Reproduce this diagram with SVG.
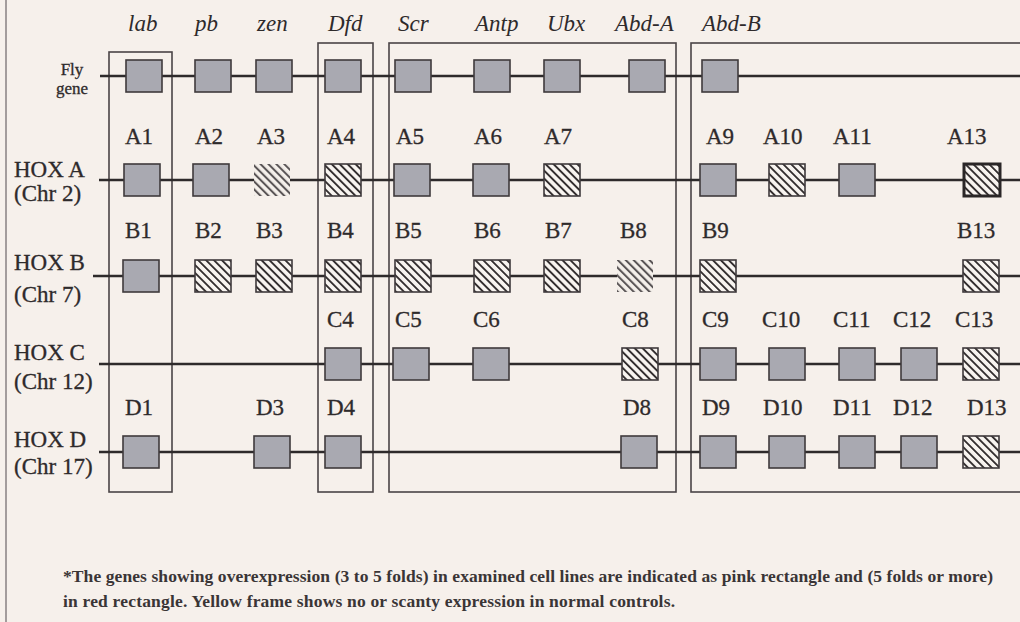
<svg xmlns="http://www.w3.org/2000/svg" width="1020" height="622" viewBox="0 0 1020 622">
<defs>
<pattern id="hatch" patternUnits="userSpaceOnUse" width="5.6" height="5.6" patternTransform="rotate(-45)">
<rect width="5.6" height="5.6" fill="#f8f4f0"/>
<rect x="0" y="0" width="1.9" height="5.6" fill="#332e2f"/>
</pattern>
<pattern id="hatchl" patternUnits="userSpaceOnUse" width="5.6" height="5.6" patternTransform="rotate(-45)">
<rect width="5.6" height="5.6" fill="#f4efea"/>
<rect x="0" y="0" width="2" height="5.6" fill="#5a5556"/>
</pattern>
<style>
.bg{fill:#f6f0eb}
.frame{fill:none;stroke:#4a4446;stroke-width:1.6}
.chr{stroke:#2e2a2b;stroke-width:2.4;fill:none}
.g{fill:#a9a9b1;stroke:#3f3a3c;stroke-width:1.6}
.h{fill:url(#hatch);stroke:#3f3a3c;stroke-width:1.6}
.hn{fill:url(#hatchl);stroke:none}
.hb{fill:url(#hatch);stroke:#2a2627;stroke-width:3}
.fly{font-family:"Liberation Serif",serif;font-style:italic;font-size:23px;fill:#2e2a2b}
.lbl{font-family:"Liberation Serif",serif;font-size:23px;fill:#2e2a2b;stroke:#2e2a2b;stroke-width:0.3}
.hox{font-family:"Liberation Serif",serif;font-size:23px;fill:#2e2a2b;stroke:#2e2a2b;stroke-width:0.3}
.small{font-family:"Liberation Serif",serif;font-size:17px;fill:#2e2a2b;text-anchor:middle;stroke:#2e2a2b;stroke-width:0.3}
.note{font-family:"Liberation Serif",serif;font-size:17.5px;font-weight:bold;fill:#3a3536}
</style>
</defs>
<rect class="bg" x="0" y="0" width="1020" height="622"/>
<line x1="6" y1="0" x2="6" y2="622" stroke="#a39c9c" stroke-width="2"/>

<g id="frames">
<rect id="frame-lab" class="frame" x="109" y="52" width="63" height="440"/>
<rect id="frame-dfd" class="frame" x="318" y="43" width="55" height="449"/>
<rect id="frame-scr-abda" class="frame" x="389" y="43" width="287" height="449"/>
<rect id="frame-abdb" class="frame" x="691" y="43" width="340" height="449"/>
</g>

<g id="connectors">
<line class="chr" x1="100" y1="76" x2="1020" y2="76"/>
<line class="chr" x1="99" y1="180" x2="1020" y2="180"/>
<line class="chr" x1="93" y1="276" x2="1020" y2="276"/>
<line class="chr" x1="99" y1="364" x2="1020" y2="364"/>
<line class="chr" x1="99" y1="452" x2="1020" y2="452"/>
</g>

<g id="row-labels">
<text class="small" x="72" y="75">Fly</text>
<text class="small" x="72" y="94">gene</text>
<text class="hox" x="14" y="177">HOX A</text>
<text class="hox" x="14" y="201">(Chr 2)</text>
<text class="hox" x="14" y="270">HOX B</text>
<text class="hox" x="14" y="302">(Chr 7)</text>
<text class="hox" x="14" y="360">HOX C</text>
<text class="hox" x="14" y="389">(Chr 12)</text>
<text class="hox" x="14" y="447">HOX D</text>
<text class="hox" x="14" y="474">(Chr 17)</text>
</g>

<g id="fly-genes">
<g id="lab"><text class="fly" x="128" y="31">lab</text><rect class="g" x="126" y="60" width="36" height="32"/></g>
<g id="pb"><text class="fly" x="195" y="31">pb</text><rect class="g" x="195" y="60" width="36" height="32"/></g>
<g id="zen"><text class="fly" x="257" y="31">zen</text><rect class="g" x="256" y="60" width="36" height="32"/></g>
<g id="Dfd"><text class="fly" x="328" y="31">Dfd</text><rect class="g" x="325" y="60" width="36" height="32"/></g>
<g id="Scr"><text class="fly" x="398" y="31">Scr</text><rect class="g" x="395" y="60" width="36" height="32"/></g>
<g id="Antp"><text class="fly" x="475" y="31">Antp</text><rect class="g" x="474" y="60" width="36" height="32"/></g>
<g id="Ubx"><text class="fly" x="547" y="31">Ubx</text><rect class="g" x="544" y="60" width="36" height="32"/></g>
<g id="Abd-A"><text class="fly" x="615" y="31">Abd-A</text><rect class="g" x="629" y="60" width="36" height="32"/></g>
<g id="Abd-B"><text class="fly" x="702" y="31">Abd-B</text><rect class="g" x="702" y="60" width="36" height="32"/></g>
</g>

<g id="hoxa">
<g id="A1"><text class="lbl" x="125" y="144">A1</text><rect class="g" x="124" y="164" width="36" height="32"/></g>
<g id="A2"><text class="lbl" x="195" y="144">A2</text><rect class="g" x="193" y="164" width="36" height="32"/></g>
<g id="A3"><text class="lbl" x="257" y="144">A3</text><rect class="hn" x="254" y="164" width="36" height="32"/></g>
<g id="A4"><text class="lbl" x="327" y="144">A4</text><rect class="h" x="325" y="164" width="36" height="32"/></g>
<g id="A5"><text class="lbl" x="396" y="144">A5</text><rect class="g" x="394" y="164" width="36" height="32"/></g>
<g id="A6"><text class="lbl" x="474" y="144">A6</text><rect class="g" x="473" y="164" width="36" height="32"/></g>
<g id="A7"><text class="lbl" x="544" y="144">A7</text><rect class="h" x="544" y="164" width="36" height="32"/></g>
<g id="A9"><text class="lbl" x="706" y="144">A9</text><rect class="g" x="700" y="164" width="36" height="32"/></g>
<g id="A10"><text class="lbl" x="763" y="144">A10</text><rect class="h" x="769" y="164" width="36" height="32"/></g>
<g id="A11"><text class="lbl" x="833" y="144">A11</text><rect class="g" x="839" y="164" width="36" height="32"/></g>
<g id="A13"><text class="lbl" x="947" y="144">A13</text><rect class="hb" x="964" y="164" width="36" height="32"/></g>
</g>

<g id="hoxb">
<g id="B1"><text class="lbl" x="125" y="238">B1</text><rect class="g" x="123" y="260" width="36" height="32"/></g>
<g id="B2"><text class="lbl" x="195" y="238">B2</text><rect class="h" x="195" y="260" width="36" height="32"/></g>
<g id="B3"><text class="lbl" x="256" y="238">B3</text><rect class="h" x="256" y="260" width="36" height="32"/></g>
<g id="B4"><text class="lbl" x="327" y="238">B4</text><rect class="h" x="325" y="260" width="36" height="32"/></g>
<g id="B5"><text class="lbl" x="395" y="238">B5</text><rect class="h" x="395" y="260" width="36" height="32"/></g>
<g id="B6"><text class="lbl" x="474" y="238">B6</text><rect class="h" x="474" y="260" width="36" height="32"/></g>
<g id="B7"><text class="lbl" x="545" y="238">B7</text><rect class="h" x="544" y="260" width="36" height="32"/></g>
<g id="B8"><text class="lbl" x="620" y="238">B8</text><rect class="hn" x="617" y="260" width="36" height="32"/></g>
<g id="B9"><text class="lbl" x="702" y="238">B9</text><rect class="h" x="700" y="260" width="36" height="32"/></g>
<g id="B13"><text class="lbl" x="957" y="238">B13</text><rect class="h" x="963" y="260" width="36" height="32"/></g>
</g>

<g id="hoxc">
<g id="C4"><text class="lbl" x="327" y="327">C4</text><rect class="g" x="325" y="348" width="36" height="32"/></g>
<g id="C5"><text class="lbl" x="395" y="327">C5</text><rect class="g" x="393" y="348" width="36" height="32"/></g>
<g id="C6"><text class="lbl" x="473" y="327">C6</text><rect class="g" x="473" y="348" width="36" height="32"/></g>
<g id="C8"><text class="lbl" x="622" y="327">C8</text><rect class="h" x="622" y="348" width="36" height="32"/></g>
<g id="C9"><text class="lbl" x="702" y="327">C9</text><rect class="g" x="700" y="348" width="36" height="32"/></g>
<g id="C10"><text class="lbl" x="762" y="327">C10</text><rect class="g" x="769" y="348" width="36" height="32"/></g>
<g id="C11"><text class="lbl" x="833" y="327">C11</text><rect class="g" x="839" y="348" width="36" height="32"/></g>
<g id="C12"><text class="lbl" x="893" y="327">C12</text><rect class="g" x="901" y="348" width="36" height="32"/></g>
<g id="C13"><text class="lbl" x="955" y="327">C13</text><rect class="h" x="963" y="348" width="36" height="32"/></g>
</g>

<g id="hoxd">
<g id="D1"><text class="lbl" x="125" y="415">D1</text><rect class="g" x="123" y="436" width="36" height="32"/></g>
<g id="D3"><text class="lbl" x="256" y="415">D3</text><rect class="g" x="254" y="436" width="36" height="32"/></g>
<g id="D4"><text class="lbl" x="327" y="415">D4</text><rect class="g" x="325" y="436" width="36" height="32"/></g>
<g id="D8"><text class="lbl" x="623" y="415">D8</text><rect class="g" x="621" y="436" width="36" height="32"/></g>
<g id="D9"><text class="lbl" x="702" y="415">D9</text><rect class="g" x="700" y="436" width="36" height="32"/></g>
<g id="D10"><text class="lbl" x="763" y="415">D10</text><rect class="g" x="769" y="436" width="36" height="32"/></g>
<g id="D11"><text class="lbl" x="833" y="415">D11</text><rect class="g" x="839" y="436" width="36" height="32"/></g>
<g id="D12"><text class="lbl" x="893" y="415">D12</text><rect class="g" x="901" y="436" width="36" height="32"/></g>
<g id="D13"><text class="lbl" x="967" y="415">D13</text><rect class="h" x="963" y="436" width="36" height="32"/></g>
</g>

<g id="footnote">
<text class="note" x="63" y="582" textLength="930" lengthAdjust="spacing">*The genes showing overexpression (3 to 5 folds) in examined cell lines are indicated as pink rectangle and (5 folds or more)</text>
<text class="note" x="63" y="607" textLength="612" lengthAdjust="spacing">in red rectangle. Yellow frame shows no or scanty expression in normal controls.</text>
</g>
</svg>
